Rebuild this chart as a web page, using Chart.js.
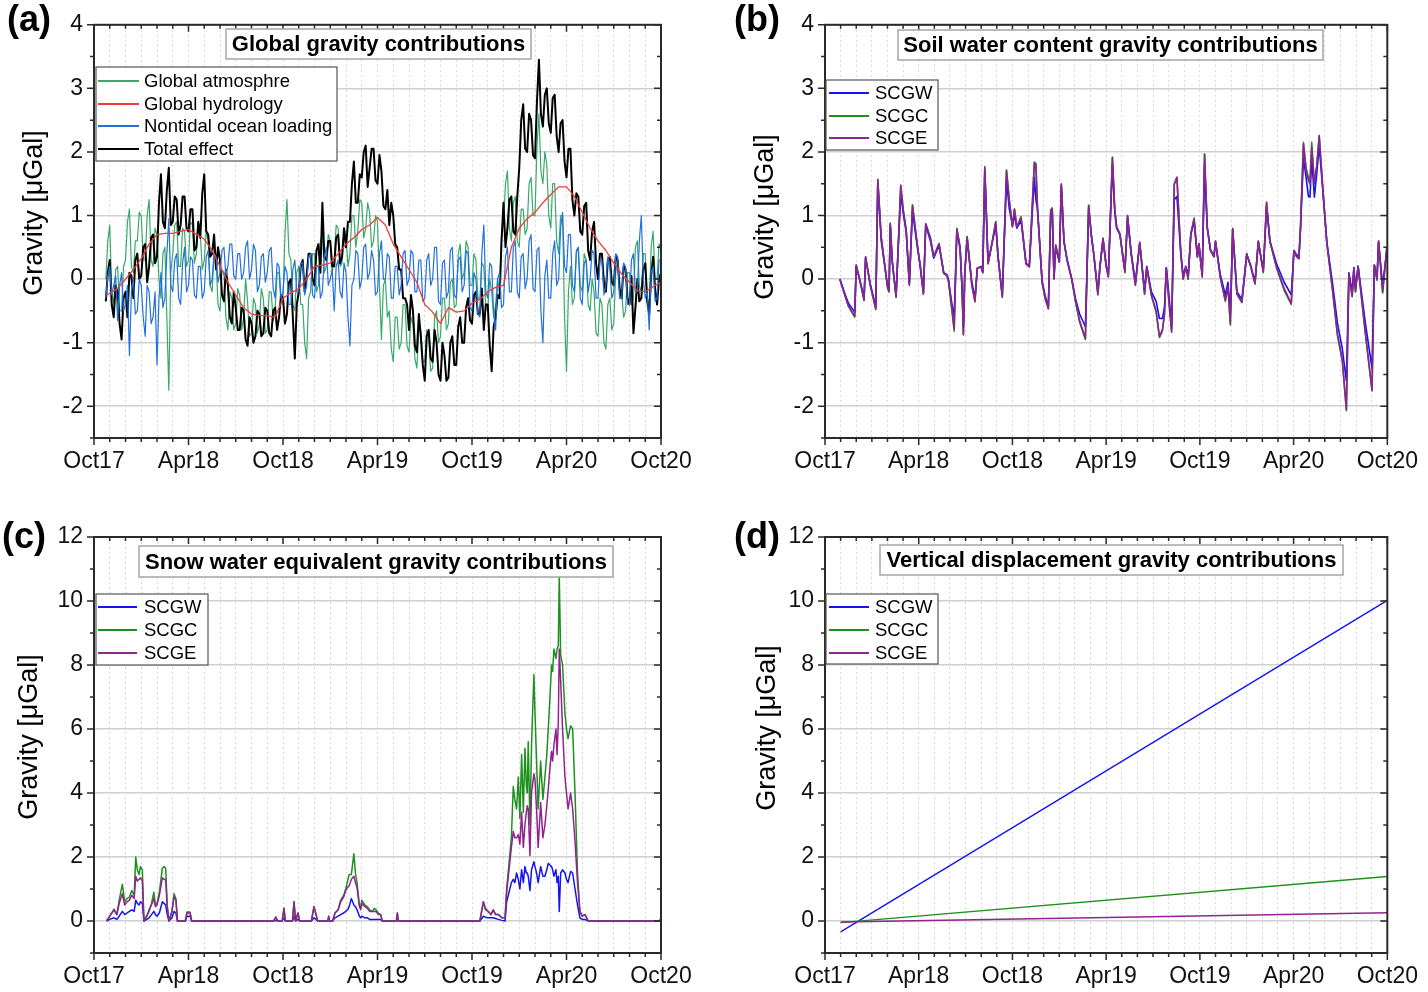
<!DOCTYPE html>
<html>
<head>
<meta charset="utf-8">
<title>Gravity contributions</title>
<script src="https://cdn.jsdelivr.net/npm/chart.js@4.4.1/dist/chart.umd.min.js"></script>
<style>
  body { margin: 0; background: #fff; }
  #page { position: relative; width: 1428px; height: 992px; overflow: hidden; }
  .panel { position: absolute; width: 714px; height: 496px; }
</style>
</head>
<body>
<div id="page">
  <div class="panel" style="left:0;top:0"><canvas id="chartA"></canvas></div>
  <div class="panel" style="left:714px;top:0"><canvas id="chartB"></canvas></div>
  <div class="panel" style="left:0;top:496px"><canvas id="chartC"></canvas></div>
  <div class="panel" style="left:714px;top:496px"><canvas id="chartD"></canvas></div>
</div>
<script>
// x axis is in months after 1 Oct 2017
const xTickLabels = ['Oct17', 'Apr18', 'Oct18', 'Apr19', 'Oct19', 'Apr20', 'Oct20'];

// (a) global contributions, sampled every eighth of a month from 0.75 (one row = one month)
const globalStart = 0.75, globalStep = 0.125;
const globalAtmosphere = [
  0.0, 0.6, 0.85, -0.2, -0.4, 0.15, 0.2, -0.5,
  -0.5, 0.2, 0.3, 0.9, 1.1, 0.2, 0.1, 0.6,
  0.6, 1.05, 1.0, 0.3, 0.3, 1.0, 1.25, 0.3,
  0.2, 0.8, 0.7, 0.0, -0.3, 0.4, 0.5, -0.6,
  -1.75, 0.1, 0.4, 0.85, 0.9, 0.2, 0.2, 0.8,
  0.75, 0.2, 0.3, 0.9, 0.85, 0.25, 0.4, 0.9,
  0.7, 0.15, 0.3, 0.75, 0.6, -0.1, -0.2, 0.4,
  0.3, -0.4, -0.5, 0.15, 0.1, -0.6, -0.8, -0.2,
  -0.3, -0.8, -0.7, -0.15, -0.25, -0.8, -0.6, 0.0,
  -0.35, -0.9, -0.85, -0.3, -0.4, -0.85, -0.7, -0.15,
  -0.3, -0.85, -0.8, -0.2, -0.2, -0.65, -0.5, 0.1,
  0.1, -0.4, -0.3, 0.7, 1.25, 0.4, 0.3, -0.4,
  -0.5, 0.1, 0.2, -0.4, -0.4, -1.0, -1.25, -0.3,
  -0.2, 0.4, 0.4, -0.2, -0.1, 0.6, 0.7, 0.1,
  0.2, 0.7, 0.6, 0.1, 0.3, 0.85, 0.8, 0.2,
  0.25, 0.8, 0.7, 0.2, 0.4, 1.0, 1.0, 0.5,
  0.75, 1.25, 1.2, 0.65, 0.8, 1.2, 1.05, 0.5,
  0.6, 1.0, 0.9, -0.1, -0.95, -0.1, 0.0, -0.6,
  -0.5, -1.1, -1.3, -0.6, -0.6, -1.1, -1.0, -0.4,
  -0.4, -1.05, -1.15, -0.6, -0.7, -1.25, -1.4, -0.8,
  -0.8, -1.3, -1.3, -0.8, -0.9, -1.45, -1.4, -0.6,
  -0.5, -1.0, -0.9, -0.3, -0.3, -0.8, -0.7, -0.05,
  0.0, -0.45, -0.4, 0.4, 0.55, 0.0, 0.1, 0.6,
  0.5, -0.1, -0.1, 0.4, 0.3, -0.3, -0.3, 0.25,
  0.2, -0.45, -0.5, 0.0, -0.2, -0.6, -0.4, 0.0,
  -0.2, 0.7, 0.9, 1.5, 1.7, 0.8, 0.6, 1.2,
  1.3, 0.6, 0.5, 1.1, 1.1, 0.7, 0.8, 1.5,
  1.6, 1.0, 1.0, 2.1, 2.6, 1.7, 1.5, 2.0,
  1.8, 1.0, 0.8, 1.5, 1.5, 0.6, 0.4, 1.0,
  1.0, -0.6, -1.45, -0.2, 0.2, -0.4, -0.3, 0.4,
  0.5, -0.1, -0.2, 0.4, 0.3, -0.4, -0.5, 0.0,
  -0.2, -0.85, -0.9, -0.3, -0.4, -1.0, -1.1, -0.4,
  -0.3, -0.8, -0.7, 0.1, 0.3, -0.3, -0.2, -0.6,
  -0.5, 0.1, 0.1, -0.4, -0.3, 0.5, 0.6, -0.1,
  -0.2, 0.4, 0.4, -0.3, -0.4, 0.5, 0.75, 0.0,
  0.0, 0.55, 0.5
];
const nontidalOcean = [
  -0.3, 0.05, 0.2, -0.25, -0.1, 0.05, -0.65, -0.1,
  0.1, -0.5, -0.4, -0.1, -1.2, -0.2, 0.0, -0.55,
  -0.5, 0.0, -0.1, -0.6, -0.9, -0.1, -0.2, -0.7,
  -0.6, -0.2, -1.35, -0.3, 0.1, -0.45, -0.3, 0.4,
  0.95, -0.1, -0.2, 0.3, 0.4, -0.3, -0.4, 0.25,
  0.5, -0.2, -0.1, 0.35, 0.3, -0.25, -0.3, 0.2,
  0.2, -0.3, -0.2, 0.35, 0.45, -0.1, 0.0, 0.4,
  0.35, -0.05, 0.1, 0.45, 0.5, 0.05, 0.2, 0.55,
  0.55, 0.05, 0.0, 0.4, 0.4, 0.0, 0.1, 0.5,
  0.6, 0.0, 0.15, 0.55, 0.45, -0.2, -0.1, 0.35,
  0.4, -0.05, 0.1, 0.45, 0.5, -0.15, -0.3, 0.25,
  0.2, -0.3, -0.2, 0.2, 0.1, -0.4, -0.4, 0.15,
  0.3, -0.2, -0.2, 0.25, 0.25, -0.25, -0.1, 0.35,
  0.4, -0.25, -0.3, 0.2, 0.2, -0.3, -0.2, 0.35,
  0.5, -0.1, 0.0, 0.15, -0.5, 0.2, 0.3, -0.2,
  -0.3, 0.25, 0.1, -0.6, -1.05, -0.1, 0.0, 0.45,
  0.4, -0.15, 0.0, 0.5, 0.55, 0.0, 0.1, 0.45,
  0.3, -0.25, -0.2, 0.4, 0.6, 0.0, 0.0, 0.4,
  0.35, -0.3, -0.3, 0.2, 0.2, -0.25, -0.1, 0.4,
  0.45, -0.1, 0.0, 0.45, 0.4, -0.2, -0.2, 0.3,
  0.3, -0.35, -0.3, 0.3, 0.4, -0.1, 0.0, 0.5,
  0.5, -0.35, -0.4, 0.25, 0.3, -0.3, -0.2, 0.45,
  0.5, -0.25, -0.3, 0.3, 0.35, -0.2, -0.1, 0.45,
  0.4, -0.45, -0.5, 0.1, 0.0, -0.55, -0.6, 0.4,
  0.85, -0.2, -0.3, 0.25, 0.2, -0.55, -0.8, 0.0,
  0.1, -0.45, -0.4, 0.35, 0.5, -0.2, -0.2, 0.5,
  0.6, -0.2, -0.3, 0.35, 0.4, -0.15, 0.0, 0.6,
  0.7, -0.15, -0.2, 0.45, 0.5, -0.5, -1.0, 0.05,
  0.3, -0.3, -0.3, 0.4, 0.6, -0.1, 0.0, 0.8,
  1.05, 0.2, 0.1, 0.7, 0.7, -0.1, -0.2, 0.45,
  0.5, -0.3, -0.4, 0.25, 0.3, -0.2, 0.0, 0.45,
  0.4, -0.3, -0.3, 0.3, 0.3, -0.25, -0.1, 0.35,
  0.2, -0.3, -0.2, 0.4, 0.35, -0.3, -0.3, 0.25,
  0.2, -0.4, -0.4, 0.3, 0.4, -0.2, -0.2, 0.6,
  1.0, 0.0, -0.3, -0.2, -0.8, 0.1, 0.2, -0.35,
  -0.3, 0.3, 0.3
];
const totalEffect = [
  -0.35, 0.1, 0.3, -0.4, -0.6, -0.1, -0.2, -0.7,
  -0.95, -0.3, -0.2, -0.6, 0.1, 0.05, -0.3, 0.3,
  0.4, 0.0, 0.05, 0.5, 0.55, -0.05, 0.2, 0.65,
  0.7, 0.25, 0.35, 1.2, 1.65, 0.9, 0.8, 1.4,
  1.75, 0.85, 0.9, 1.3, 1.25, 0.7, 0.85, 1.3,
  1.3, 0.8, 0.75, 1.1, 1.1, 0.45, 0.5, 0.9,
  0.65, 1.35, 1.65, 0.75, 0.7, 0.35, 0.4, 0.7,
  0.15, 0.5, 0.3, -0.25, -0.35, 0.15, -0.1, -0.6,
  -0.7, -0.2, -0.45, -0.8, -0.8, -0.45, -0.5, -0.95,
  -1.05, -0.6, -0.7, -1.0, -0.9, -0.5, -0.55, -0.9,
  -0.85, -0.45, -0.5, -0.85, -0.9, -0.5, -0.45, -0.8,
  -0.6, -0.25, -0.3, -0.7, -0.55, -0.05, 0.0, -0.6,
  -1.25, -0.4, -0.2, 0.2, 0.3, -0.2, 0.05, 0.4,
  0.4, 0.0, -0.1, 0.45, 0.55, 0.1, 1.2, 0.35,
  0.3, 0.6, 0.6, 0.2, 0.2, 0.65, 0.7, 0.25,
  0.35, 0.8, 0.5, 0.9, 0.9, 1.5, 1.85, 1.2,
  1.2, 1.65, 1.6, 2.0, 2.1, 1.45, 1.75, 2.05,
  2.05, 1.55, 1.5, 1.95, 1.7, 1.15, 1.1, 1.4,
  0.85, 1.2, 1.0, 0.55, 0.5, 0.15, 0.15, -0.3,
  -0.3, -0.4, -0.8, -0.25, -0.5, -1.05, -1.15, -0.55,
  -0.9, -1.35, -1.6, -0.9, -0.8, -1.25, -1.3, -0.8,
  -1.0, -1.5, -1.6, -1.0, -1.2, -1.6, -1.55, -1.0,
  -0.9, -1.35, -1.35, -0.75, -0.6, -1.0, -1.0, -0.45,
  -0.3, -0.65, -0.7, -0.25, -0.2, -0.55, -0.55, -0.15,
  -0.8, -0.4, -0.4, -1.05, -1.45, -0.75, -0.6, -0.25,
  -0.3, 0.6, 1.2, 0.5, 0.8, 1.25, 1.3, 0.75,
  0.7, 1.3, 1.75, 2.5, 2.75, 2.05, 2.0, 2.6,
  2.5, 1.95, 1.9, 2.8, 3.45, 2.6, 2.4, 2.9,
  3.0, 2.45, 2.3, 2.85, 2.9, 2.25, 2.0, 2.45,
  2.5, 1.85, 1.6, 2.05, 2.05, 1.25, 1.0, 1.35,
  1.3, 0.75, 0.7, 1.15, 1.2, 0.45, 0.3, 0.75,
  0.9, 0.25, 0.0, 0.4, 0.4, -0.05, -0.2, 0.3,
  0.35, -0.05, -0.1, 0.35, 0.3, -0.15, -0.3, 0.2,
  0.15, -0.3, -0.4, 0.05, -0.85, -0.45, 0.0, -0.35,
  -0.3, 0.15, 0.25, -0.35, -0.55, 0.05, 0.35, -0.15,
  -0.4, 0.0, 0.1
];
const hydroMonths = [0.8, 1.5, 2, 2.5, 3, 3.5, 4, 4.5, 5, 5.5, 6, 6.5, 7, 7.5, 8, 8.5, 9, 9.5,
  10, 10.5, 11, 11.5, 12, 12.5, 13, 13.5, 14, 14.5, 15, 15.5, 16, 16.5, 17, 17.5, 18, 18.5,
  19, 19.5, 20, 20.5, 21, 21.5, 22, 22.5, 23, 23.5, 24, 24.5, 25, 25.5, 26, 26.5, 27, 27.5,
  28, 28.5, 29, 29.5, 30, 30.5, 31, 31.5, 32, 32.5, 33, 33.5, 34, 34.5, 35, 35.5, 36];
const globalHydrology = [-0.25, -0.15, 0.0, 0.15, 0.32, 0.55, 0.7, 0.72, 0.72, 0.75, 0.78, 0.7, 0.63, 0.45, 0.2, -0.05, -0.25, -0.45,
  -0.55, -0.57, -0.58, -0.6, -0.3, -0.22, -0.15, 0.0, 0.2, 0.22, 0.25, 0.4, 0.55, 0.65, 0.78, 0.85, 0.97, 0.85,
  0.55, 0.35, 0.15, -0.05, -0.4, -0.52, -0.7, -0.45, -0.52, -0.5, -0.38, -0.32, -0.2, -0.13, -0.1, 0.5, 0.8, 0.95,
  1.05, 1.2, 1.33, 1.45, 1.45, 1.3, 1.05, 0.8, 0.6, 0.45, 0.25, 0.08, -0.05, -0.18, -0.2, -0.12, -0.05];

// (b) soil water content
const soilMonths = [
  0.95, 1.2, 1.5, 1.9, 2.0, 2.3, 2.5, 2.6, 2.9, 3.25,
  3.38, 3.6, 4.0, 4.1, 4.18, 4.3, 4.55, 4.85, 5.0, 5.2,
  5.4, 5.6, 5.9, 6.1, 6.3, 6.45, 6.75, 6.96, 7.3, 7.6,
  7.8, 7.9, 8.1, 8.27, 8.44, 8.65, 8.78, 8.86, 8.95, 9.1,
  9.4, 9.6, 9.75, 10.0, 10.1, 10.23, 10.44, 10.76, 10.93, 11.08,
  11.35, 11.62, 11.8, 12.0, 12.13, 12.28, 12.55, 12.87, 13.08, 13.4,
  13.5, 13.6, 13.9, 14.1, 14.3, 14.45, 14.55, 14.66, 14.77, 15.0,
  15.13, 15.3, 15.5, 15.8, 16.03, 16.3, 16.67, 16.88, 17.05, 17.2,
  17.47, 17.6, 17.8, 18.0, 18.14, 18.4, 18.55, 18.67, 18.88, 19.2,
  19.37, 19.6, 19.87, 20.15, 20.46, 20.6, 20.9, 21.2, 21.41, 21.6,
  21.73, 21.85, 22.0, 22.19, 22.36, 22.53, 22.78, 22.93, 23.1, 23.25,
  23.42, 23.63, 23.84, 23.94, 24.15, 24.3, 24.47, 24.68, 24.9, 25.0,
  25.3, 25.63, 25.8, 25.95, 26.1, 26.37, 26.69, 27.0, 27.25, 27.53,
  27.74, 28.06, 28.27, 28.48, 28.9, 29.4, 29.85, 30.02, 30.2, 30.34,
  30.44, 30.63, 30.8, 30.95, 31.05, 31.16, 31.33, 31.48, 31.64, 31.85,
  32.13, 32.5, 32.8, 33.12, 33.38, 33.54, 33.75, 33.86, 33.96, 34.13,
  34.6, 35.02, 35.17, 35.34, 35.44, 35.7, 35.97
];
const soilW = [
  0, -0.18, -0.38, -0.52, 0.2, -0.08, -0.3, 0.33, -0.08, -0.43,
  1.5, 0.6, -0.1, -0.18, 0.84, 0.28, -0.26, 1.35, 1.05, 0.73,
  -0.07, 1.08, 0.52, 0.2, -0.21, 0.85, 0.6, 0.33, 0.53, 0.1,
  0.07, 0, -0.35, -0.6, 0.75, 0.47, -0.15, -0.75, 0.1, 0.62,
  -0.05, -0.3, 0.17, 0.2, 0.12, 1.7, 0.26, 0.64, 0.85, 0.35,
  -0.25, 1.55, 1.1, 0.85, 1.0, 0.8, 0.92, 0.25, 0.2, 1.6,
  1.25, 1.1, -0.03, -0.27, -0.43, 1.02, 1.05, 0.02, 0.5, 0.27,
  1.45, 0.58, 0.3, 0, -0.3, -0.55, -0.75, 1.12, 0.68, 0.4,
  -0.2, 0.2, 0.62, 0.22, 0.06, 1.8, 1.05, 0.8, 0.7, 0.14,
  0.97, 0.42, -0.05, 0.56, -0.18, 0.2, -0.2, -0.35, -0.62, -0.62,
  -0.45, 0.18, -0.2, -0.75, 1.25, 1.3, 0.4, 0.05, 0.2, 0.05,
  0.7, 0.9, 0.35, 0.55, 0.06, 1.8, 0.8, 0.46, 0.36, 0.58,
  0.08, -0.25, -0.05, -0.55, 0.78, -0.2, -0.32, 0.38, 0.22, -0.04,
  0.58, 0.14, 1.15, 0.6, 0.25, -0.05, -0.25, 0.45, 0.38, 0.35,
  0.78, 1.9, 1.6, 1.3, 1.29, 1.9, 1.29, 1.65, 2.1, 1.45,
  0.58, -0.08, -0.68, -1.1, -1.6, 0.1, -0.2, 0.18, -0.15, 0.2,
  -0.7, -1.4, 0.22, 0.02, 0.58, -0.1, 0.45
];
const soilC = [
  0, -0.2, -0.43, -0.6, 0.22, -0.1, -0.34, 0.35, -0.1, -0.48,
  1.57, 0.66, -0.13, -0.2, 0.88, 0.3, -0.29, 1.48, 1.1, 0.77,
  -0.1, 1.17, 0.56, 0.2, -0.24, 0.87, 0.65, 0.35, 0.56, 0.09,
  0.05, -0.03, -0.45, -0.82, 0.8, 0.5, -0.2, -0.88, 0.1, 0.67,
  -0.1, -0.36, 0.17, 0.19, 0.1, 1.77, 0.24, 0.66, 0.9, 0.35,
  -0.29, 1.72, 1.25, 0.83, 1.1, 0.82, 0.98, 0.24, 0.19, 1.84,
  1.82, 1.15, -0.06, -0.32, -0.47, 1.09, 1.12, 0, 0.54, 0.27,
  1.5, 0.6, 0.3, -0.01, -0.35, -0.68, -0.95, 1.16, 0.7, 0.41,
  -0.25, 0.18, 0.64, 0.2, 0.03, 1.92, 1.1, 0.82, 0.71, 0.1,
  1.0, 0.4, -0.1, 0.58, -0.24, 0.19, -0.27, -0.52, -0.92, -0.82,
  -0.57, 0.17, -0.3, -0.84, 1.5, 1.6, 0.4, 0, 0.19, 0,
  0.71, 0.96, 0.35, 0.56, 0.03, 1.97, 0.82, 0.45, 0.35, 0.6,
  0.03, -0.35, -0.12, -0.72, 0.8, -0.24, -0.37, 0.4, 0.2, -0.08,
  0.6, 0.1, 1.21, 0.6, 0.18, -0.18, -0.4, 0.45, 0.35, 0.32,
  0.8, 2.15, 1.75, 1.6, 1.5, 2.15, 1.5, 1.78, 2.26, 1.5,
  0.56, -0.2, -0.88, -1.3, -2.07, 0.07, -0.28, 0.17, -0.2, 0.2,
  -0.88, -1.76, 0.22, -0.02, 0.6, -0.22, 0.5
];
const soilE = [
  0, -0.2, -0.42, -0.58, 0.22, -0.1, -0.33, 0.35, -0.1, -0.47,
  1.56, 0.66, -0.12, -0.2, 0.87, 0.3, -0.28, 1.47, 1.1, 0.77,
  -0.09, 1.16, 0.56, 0.2, -0.23, 0.87, 0.64, 0.35, 0.56, 0.09,
  0.06, -0.02, -0.4, -0.78, 0.79, 0.5, -0.2, -0.87, 0.1, 0.66,
  -0.09, -0.35, 0.17, 0.19, 0.1, 1.75, 0.24, 0.66, 0.9, 0.35,
  -0.28, 1.7, 1.23, 0.82, 1.1, 0.82, 0.97, 0.24, 0.19, 1.82,
  1.8, 1.13, -0.05, -0.3, -0.46, 1.08, 1.1, 0, 0.53, 0.27,
  1.49, 0.6, 0.3, 0, -0.33, -0.65, -0.93, 1.16, 0.7, 0.41,
  -0.24, 0.18, 0.64, 0.2, 0.04, 1.91, 1.1, 0.82, 0.71, 0.11,
  1.0, 0.4, -0.09, 0.58, -0.23, 0.19, -0.25, -0.5, -0.9, -0.8,
  -0.55, 0.17, -0.3, -0.82, 1.49, 1.6, 0.4, 0, 0.19, 0,
  0.71, 0.95, 0.35, 0.56, 0.04, 1.96, 0.82, 0.45, 0.35, 0.6,
  0.04, -0.33, -0.12, -0.7, 0.79, -0.23, -0.36, 0.4, 0.2, -0.07,
  0.6, 0.11, 1.2, 0.6, 0.2, -0.15, -0.38, 0.45, 0.35, 0.32,
  0.79, 2.12, 1.7, 1.55, 1.5, 2.07, 1.5, 1.77, 2.25, 1.49,
  0.56, -0.17, -0.85, -1.27, -2.05, 0.07, -0.27, 0.17, -0.2, 0.2,
  -0.85, -1.74, 0.22, 0, 0.6, -0.2, 0.5
];

// (c) snow water equivalent
const snowMonths = [
  0.8, 1.0, 1.27, 1.45, 1.6, 1.8, 1.95, 2.1, 2.25, 2.4,
  2.55, 2.65, 2.75, 2.86, 2.95, 3.07, 3.17, 3.35, 3.5, 3.65,
  3.8, 3.9, 4.0, 4.15, 4.34, 4.45, 4.55, 4.65, 4.76, 4.95,
  5.08, 5.2, 5.3, 5.8, 5.9, 6.1, 6.2, 11.4, 11.55, 11.65,
  11.95, 12.06, 12.15, 12.6, 12.7, 12.8, 12.95, 13.05, 13.8, 13.97,
  14.1, 14.2, 14.85, 14.9, 14.95, 15.15, 15.3, 15.5, 15.66, 15.85,
  15.98, 16.1, 16.2, 16.34, 16.5, 16.6, 16.7, 16.85, 16.93, 17.0,
  17.2, 17.35, 17.5, 17.7, 17.8, 17.9, 18.05, 18.2, 18.3, 19.2,
  19.26, 19.32, 24.5, 24.72, 24.85, 25.03, 25.2, 25.35, 25.5, 25.67,
  25.9, 26.1, 26.2, 26.35, 26.5, 26.62, 26.72, 26.83, 26.94, 27.04,
  27.15, 27.26, 27.36, 27.45, 27.51, 27.57, 27.68, 27.78, 27.93, 28.0,
  28.1, 28.2, 28.36, 28.5, 28.63, 28.75, 28.84, 28.95, 29.05, 29.12,
  29.2, 29.33, 29.4, 29.48, 29.54, 29.63, 29.75, 29.9, 30.0, 30.1,
  30.26, 30.39, 30.54, 30.7, 30.85, 31.0, 31.17, 31.38, 35.9, 35.95,
  36
];
const snowW = [
  0, 0.05, 0.1, 0.05, 0.15, 0.3, 0.2, 0.25, 0.3, 0.35,
  0.3, 0.65, 0.55, 0.5, 0.6, 0.55, 0, 0.05, 0.1, 0.2,
  0.3, 0.2, 0.15, 0.25, 0.6, 0.55, 0.5, 0.2, 0, 0.1,
  0.3, 0.25, 0, 0, 0.15, 0.15, 0, 0, 0.02, 0,
  0, 0.1, 0, 0, 0.15, 0, 0.05, 0, 0, 0.1,
  0.05, 0, 0, 0.05, 0, 0, 0.1, 0.15, 0.2, 0.25,
  0.3, 0.35, 0.45, 0.7, 0.5, 0.45, 0.35, 0.15, 0.1, 0.15,
  0.1, 0.1, 0.05, 0.05, 0.05, 0.05, 0.05, 0.05, 0, 0,
  0.1, 0, 0, 0.15, 0.12, 0.1, 0.1, 0.1, 0.08, 0.05,
  0.02, 0, 0.6, 0.9, 1.2, 1.3, 1.2, 1.5, 1.3, 1.0,
  1.6, 1.2, 1.7, 1.5, 1.5, 1.4, 0.95, 1.6, 1.85, 1.7,
  1.5, 1.2, 1.7, 1.4, 1.4, 1.6, 1.8, 1.75, 1.7, 1.6,
  1.4, 1.6, 1.2, 1.4, 0.3, 1.5, 1.6, 1.5, 1.3, 1.2,
  1.55, 1.5, 1.0, 0.5, 0.1, 0.05, 0.05, 0, 0, 0.03,
  0
];
const snowC = [
  0, 0.15, 0.37, 0.2, 0.65, 1.15, 0.6, 0.7, 0.75, 0.95,
  0.8, 2.0, 1.6, 1.45, 1.7, 1.6, 0, 0.15, 0.3, 0.55,
  0.9, 0.5, 0.55, 0.9, 1.65, 1.7, 1.65, 0.5, 0, 0.3,
  0.85, 0.7, 0, 0, 0.28, 0.28, 0, 0, 0.12, 0,
  0, 0.4, 0, 0, 0.6, 0, 0.25, 0, 0, 0.45,
  0.2, 0, 0, 0.15, 0, 0, 0.25, 0.35, 0.65, 0.8,
  1.0, 1.25, 1.45, 1.45, 2.1, 1.5, 1.2, 0.5, 0.4, 0.65,
  0.5, 0.45, 0.35, 0.3, 0.4, 0.35, 0.25, 0.2, 0, 0,
  0.25, 0, 0, 0.6, 0.35, 0.3, 0.2, 0.35, 0.2, 0.2,
  0.1, 0.1, 1.0, 1.8, 2.6, 4.2, 3.8, 3.5, 4.5, 3.2,
  5.2, 3.4, 5.4, 4.2, 4.0, 5.6, 3.0, 5.5, 7.7, 6.5,
  5.0, 3.5, 5.0, 3.8, 4.5, 5.2, 6.0, 7.0, 8.0, 7.8,
  8.5, 8.2, 8.5, 8.6, 10.8, 8.3, 8.0, 6.5, 6.0, 5.7,
  6.1, 6.0, 4.0, 1.5, 0.3, 0.15, 0.2, 0, 0, 0.03,
  0
];
const snowE = [
  0, 0.15, 0.35, 0.2, 0.55, 0.85, 0.5, 0.6, 0.65, 0.8,
  0.7, 1.4, 1.25, 1.3, 1.35, 1.25, 0, 0.15, 0.35, 0.5,
  0.7, 0.45, 0.5, 0.8, 1.35, 1.3, 1.3, 0.4, 0, 0.3,
  0.75, 0.65, 0, 0, 0.25, 0.25, 0, 0, 0.12, 0,
  0, 0.4, 0, 0, 0.6, 0, 0.25, 0, 0, 0.45,
  0.2, 0, 0, 0.15, 0, 0, 0.25, 0.35, 0.6, 0.75,
  0.95, 1.05, 1.1, 1.3, 1.4, 1.2, 1.05, 0.45, 0.35, 0.55,
  0.45, 0.4, 0.3, 0.3, 0.3, 0.3, 0.2, 0.2, 0, 0,
  0.25, 0, 0, 0.6, 0.4, 0.3, 0.2, 0.35, 0.2, 0.2,
  0.1, 0.1, 0.9, 1.6, 2.3, 2.8, 2.6, 2.6, 2.7, 2.4,
  3.4, 2.3, 3.0, 3.4, 3.6, 3.5, 2.05, 4.0, 4.6, 4.4,
  3.5, 2.3, 3.7, 2.6, 3.0, 3.6, 4.1, 4.8, 5.3, 5.0,
  5.5, 6.0, 5.2, 6.2, 8.5, 7.5, 6.0, 4.5, 4.0, 3.5,
  4.0, 3.5, 2.5, 1.2, 0.3, 0.15, 0.2, 0, 0, 0.03,
  0
];

// (d) vertical displacement (straight trends)
const dispMonths = [1.0, 36.0];
const dispW = [-0.34, 10.02];
const dispC = [-0.05, 1.39];
const dispE = [-0.03, 0.26];

const FONT = "'Liberation Sans', Arial, sans-serif";
Chart.defaults.font.family = FONT;
Chart.defaults.color = '#111';

function pts(xs, ys) {
  return ys.map((y, i) => ({ x: xs[i], y: y }));
}
const globalMonths = totalEffect.map((_, i) => globalStart + i * globalStep);

function isMajor(v, step) {
  const r = v / step;
  return Math.abs(r - Math.round(r)) < 1e-6;
}

// frame, mirrored ticks, title box, legend box, panel letter and y title
const frameDecor = {
  id: 'frameDecor',
  afterDraw(chart, args, o) {
    const ctx = chart.ctx, a = chart.chartArea;
    const xs = chart.scales.x, ys = chart.scales.y;
    ctx.save();

    ctx.strokeStyle = '#2a2a2a';
    ctx.lineWidth = 1.5;
    ctx.beginPath();
    xs.ticks.forEach(t => {
      const px = xs.getPixelForValue(t.value);
      const len = isMajor(t.value, 6) ? 7 : 4;
      ctx.moveTo(px, a.bottom); ctx.lineTo(px, a.bottom + len);
      ctx.moveTo(px, a.top); ctx.lineTo(px, a.top + len);
    });
    ys.ticks.forEach(t => {
      const py = ys.getPixelForValue(t.value);
      const len = isMajor(t.value, o.yMajor) ? 7 : 4;
      ctx.moveTo(a.left - len, py); ctx.lineTo(a.left, py);
      ctx.moveTo(a.right - len, py); ctx.lineTo(a.right, py);
    });
    ctx.stroke();
    ctx.lineWidth = 2;
    ctx.strokeRect(a.left, a.top, a.right - a.left, a.bottom - a.top);

    // title box
    const tb = o.titleBox;
    ctx.fillStyle = '#fff';
    ctx.fillRect(tb.x1, tb.y1, tb.x2 - tb.x1, tb.y2 - tb.y1);
    ctx.strokeStyle = '#a5a5a5';
    ctx.lineWidth = 1.5;
    ctx.strokeRect(tb.x1, tb.y1, tb.x2 - tb.x1, tb.y2 - tb.y1);
    ctx.fillStyle = '#000';
    ctx.font = 'bold 22px ' + FONT;
    ctx.textAlign = 'center';
    ctx.textBaseline = 'middle';
    ctx.fillText(tb.text, (tb.x1 + tb.x2) / 2, (tb.y1 + tb.y2) / 2 + 1, tb.x2 - tb.x1 - 10);

    // legend box
    const lg = o.legend;
    ctx.fillStyle = '#fff';
    ctx.fillRect(lg.x1, lg.y1, lg.x2 - lg.x1, lg.y2 - lg.y1);
    ctx.strokeStyle = '#555';
    ctx.lineWidth = 1.2;
    ctx.strokeRect(lg.x1, lg.y1, lg.x2 - lg.x1, lg.y2 - lg.y1);
    ctx.font = '18.5px ' + FONT;
    ctx.textAlign = 'left';
    chart.data.datasets.forEach((ds, i) => {
      const y = lg.rows[i];
      ctx.strokeStyle = ds.borderColor;
      ctx.lineWidth = 2;
      ctx.beginPath();
      ctx.moveTo(lg.line[0], y); ctx.lineTo(lg.line[1], y);
      ctx.stroke();
      ctx.fillStyle = '#000';
      ctx.fillText(ds.label, lg.textX, y + 1);
    });

    // panel letter
    ctx.font = 'bold 36px ' + FONT;
    ctx.fillStyle = '#000';
    ctx.textAlign = 'left';
    ctx.fillText(o.letter.text, o.letter.x, o.letter.y);

    // y axis title
    ctx.translate(o.yTitle.x, o.yTitle.y);
    ctx.rotate(-Math.PI / 2);
    ctx.font = '27px ' + FONT;
    ctx.textAlign = 'center';
    ctx.fillText('Gravity [\u03bcGal]', 0, 0);
    ctx.restore();
  }
};

function makeChart(id, cfg) {
  const [L, T, R, B] = cfg.area;
  return new Chart(document.getElementById(id), {
    type: 'line',
    data: { datasets: cfg.datasets },
    options: {
      responsive: true,
      maintainAspectRatio: false,
      animation: false,
      events: [],
      layout: { padding: { top: T, right: 714 - R, left: 0, bottom: 0 } },
      elements: {
        point: { radius: 0 },
        line: { tension: 0, borderJoinStyle: 'round', fill: false }
      },
      plugins: {
        legend: { display: false },
        tooltip: { enabled: false },
        frameDecor: cfg.decor
      },
      scales: {
        x: {
          type: 'linear', min: 0, max: 36,
          afterFit: s => { s.height = 496 - B; },
          ticks: {
            stepSize: 1, autoSkip: false, maxRotation: 0, padding: 10,
            font: { size: 23 },
            callback: v => (isMajor(v, 6) ? xTickLabels[Math.round(v / 6)] : '')
          },
          grid: { drawTicks: false, color: '#d8d8d8', lineWidth: 1 },
          border: { display: false, dash: [2, 3] }
        },
        y: {
          type: 'linear', min: cfg.yMin, max: cfg.yMax,
          afterFit: s => { s.width = L; },
          ticks: {
            stepSize: cfg.yStep, autoSkip: false, padding: 11,
            font: { size: 23 },
            callback: v => (isMajor(v, cfg.decor.yMajor) ? String(Math.round(v)) : '')
          },
          grid: {
            drawTicks: false, lineWidth: 1.6,
            color: c => (isMajor(c.tick.value, cfg.decor.yMajor) ? '#d0d0d0' : 'rgba(0,0,0,0)')
          },
          border: { display: false }
        }
      }
    },
    plugins: [frameDecor]
  });
}

function line(label, data, color, width, order) {
  return { label: label, data: data, borderColor: color, borderWidth: width, order: order, pointRadius: 0 };
}

makeChart('chartA', {
  area: [94, 23, 661, 438], yMin: -2.5, yMax: 4, yStep: 0.5,
  datasets: [
    line('Global atmosphre', pts(globalMonths, globalAtmosphere), '#38a968', 1.2, 4),
    line('Global hydrology', pts(hydroMonths, globalHydrology), '#f03c3c', 1.3, 1),
    line('Nontidal ocean loading', pts(globalMonths, nontidalOcean), '#2170dc', 1.2, 2),
    line('Total effect', pts(globalMonths, totalEffect), '#000000', 2.0, 3)
  ],
  decor: {
    yMajor: 1,
    letter: { text: '(a)', x: 7, y: 21 },
    yTitle: { x: 35, y: 213 },
    titleBox: { text: 'Global gravity contributions', x1: 226, y1: 29, x2: 531, y2: 59 },
    legend: { x1: 96, y1: 67, x2: 337, y2: 161, rows: [81, 104, 126, 149], line: [98, 139], textX: 144 }
  }
});

makeChart('chartB', {
  area: [111, 23, 680, 438], yMin: -2.5, yMax: 4, yStep: 0.5,
  datasets: [
    line('SCGW', pts(soilMonths, soilW), '#1414f0', 1.6, 2),
    line('SCGC', pts(soilMonths, soilC), '#1f8f1f', 1.6, 3),
    line('SCGE', pts(soilMonths, soilE), '#912391', 1.6, 1)
  ],
  decor: {
    yMajor: 1,
    letter: { text: '(b)', x: 20, y: 21 },
    yTitle: { x: 52, y: 217 },
    titleBox: { text: 'Soil water content gravity contributions', x1: 184, y1: 30, x2: 609, y2: 60 },
    legend: { x1: 112, y1: 80, x2: 224, y2: 150, rows: [93, 116, 138], line: [115, 155], textX: 161 }
  }
});

makeChart('chartC', {
  area: [94, 41, 661, 457], yMin: -1, yMax: 12, yStep: 1,
  datasets: [
    line('SCGW', pts(snowMonths, snowW), '#1414f0', 1.5, 3),
    line('SCGC', pts(snowMonths, snowC), '#1f8f1f', 1.5, 2),
    line('SCGE', pts(snowMonths, snowE), '#912391', 1.5, 1)
  ],
  decor: {
    yMajor: 2,
    letter: { text: '(c)', x: 2, y: 42 },
    yTitle: { x: 30, y: 241 },
    titleBox: { text: 'Snow water equivalent gravity contributions', x1: 139, y1: 50, x2: 613, y2: 81 },
    legend: { x1: 96, y1: 98, x2: 208, y2: 169, rows: [111, 134, 157], line: [98, 137], textX: 144 }
  }
});

makeChart('chartD', {
  area: [111, 41, 680, 457], yMin: -1, yMax: 12, yStep: 1,
  datasets: [
    line('SCGW', pts(dispMonths, dispW), '#1414f0', 1.4, 3),
    line('SCGC', pts(dispMonths, dispC), '#1f8f1f', 1.4, 2),
    line('SCGE', pts(dispMonths, dispE), '#912391', 1.4, 1)
  ],
  decor: {
    yMajor: 2,
    letter: { text: '(d)', x: 20, y: 42 },
    yTitle: { x: 54, y: 232 },
    titleBox: { text: 'Vertical displacement gravity contributions', x1: 166, y1: 49, x2: 629, y2: 79 },
    legend: { x1: 112, y1: 98, x2: 224, y2: 168, rows: [111, 134, 157], line: [115, 155], textX: 161 }
  }
});
</script>
</body>
</html>
